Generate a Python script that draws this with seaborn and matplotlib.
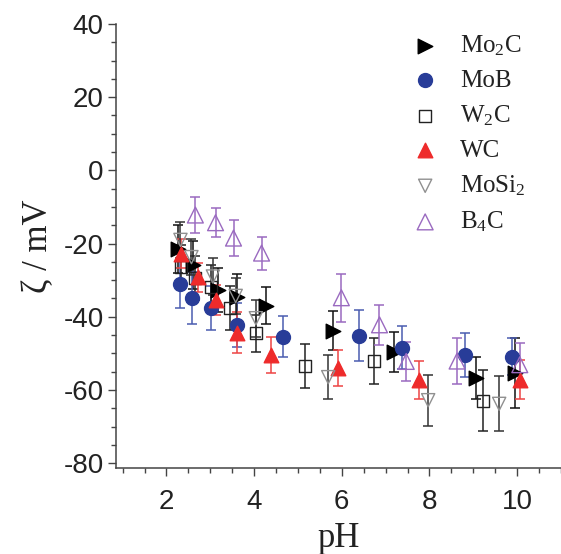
import matplotlib
matplotlib.use("Agg")
import matplotlib.pyplot as plt
import seaborn as sns
import numpy as np
from matplotlib.ticker import MultipleLocator

# ---- data ----
mo2c_ph = [2.26, 2.61, 3.18, 3.61, 4.28, 5.80, 7.18, 9.07, 9.94]
mo2c_z = [-21.5, -25.8, -32.8, -34.7, -37.0, -43.8, -49.7, -56.8, -55.4]
mo2c_err = [6.5, 6.5, 6.0, 6.4, 5.0, 5.3, 5.5, 5.8, 9.5]

mob_ph = [2.30, 2.59, 3.01, 3.61, 4.65, 6.39, 7.38, 8.80, 9.88]
mob_z = [-31.0, -34.9, -37.7, -42.2, -45.4, -45.2, -48.4, -50.4, -50.9]
mob_err = [6.5, 7.0, 6.0, 6.0, 5.6, 7.0, 6.0, 6.0, 5.0]

w2c_ph = [2.33, 2.65, 3.01, 3.44, 4.05, 5.17, 6.73, 9.21]
w2c_z = [-26.5, -29.3, -31.8, -37.5, -44.5, -53.4, -52.1, -62.9]
w2c_err = [6.0, 6.0, 6.0, 6.0, 5.0, 6.0, 6.2, 8.3]

wc_ph = [2.34, 2.72, 3.12, 3.61, 4.39, 5.91, 7.76, 10.06]
wc_z = [-22.8, -29.2, -35.4, -44.3, -50.4, -54.0, -57.4, -57.2]
wc_err = [4.0, 4.0, 4.0, 5.5, 5.0, 5.0, 5.2, 5.4]

mosi2_ph = [2.32, 2.57, 3.06, 3.58, 4.04, 5.69, 7.97, 9.59]
mosi2_z = [-19.0, -23.7, -29.0, -34.3, -40.4, -56.5, -62.8, -63.8]
mosi2_err = [5.0, 5.0, 5.0, 5.0, 5.0, 6.0, 7.0, 7.5]

b4c_ph = [2.66, 3.12, 3.53, 4.17, 5.99, 6.86, 7.47, 8.63, 10.06]
b4c_z = [-12.2, -14.3, -18.5, -22.6, -34.8, -42.2, -52.2, -52.1, -53.1]
b4c_err = [5.0, 4.0, 5.0, 4.5, 6.5, 5.5, 5.3, 6.3, 6.0]

labels = ["Mo$_2$C", "MoB", "W$_2$C", "WC", "MoSi$_2$", "B$_4$C"]

sns.set_style("ticks")
plt.rcParams["mathtext.fontset"] = "custom"
plt.rcParams["mathtext.rm"] = "Liberation Serif"
plt.rcParams["mathtext.it"] = "Liberation Serif:italic"
plt.rcParams["font.family"] = ["Liberation Sans", "DejaVu Sans"]
plt.rcParams["axes.unicode_minus"] = False

fig = plt.figure(figsize=(5.61, 5.54), dpi=100)
ax = fig.add_axes([0.2068, 0.1547, 0.7932, 0.802])

series = [
    (mo2c_ph, mo2c_z, mo2c_err, ">", "#000000", "#000000", "#111111", 110),
    (mob_ph, mob_z, mob_err, "o", "#283c98", "#283c98", "#4a5cb0", 100),
    (w2c_ph, w2c_z, w2c_err, "s", "none", "#222222", "#222222", 75),
    (wc_ph, wc_z, wc_err, "^", "#ee2b2b", "#ee2b2b", "#ee4444", 110),
    (mosi2_ph, mosi2_z, mosi2_err, "v", "none", "#909090", "#333333", 90),
    (b4c_ph, b4c_z, b4c_err, "^", "none", "#9a6ac0", "#9a6ac0", 130),
]

for (x, y, e, m, fc, ec, bc, s), lab in zip(series, labels):
    ax.errorbar(x, y, yerr=e, fmt="none", ecolor=bc, elinewidth=1.1,
                capsize=3.5, capthick=1.1, zorder=2)
    sns.scatterplot(x=x, y=y, ax=ax, marker=m, s=s, facecolor=fc,
                    edgecolor=ec, linewidth=1.0, label=lab, zorder=3)

ax.set_xlim(0.85, 11.0)
ax.set_ylim(-81.4, 40)
ax.set_xticks([2, 4, 6, 8, 10])
ax.set_yticks([40, 20, 0, -20, -40, -60, -80])
ax.xaxis.set_minor_locator(MultipleLocator(0.5))
ax.yaxis.set_minor_locator(MultipleLocator(5))
ax.tick_params(axis="both", which="major", direction="out", length=6,
               width=1.0, color="#444444", labelsize=20,
               labelcolor="#222222")
ax.tick_params(axis="x", which="major", pad=9)
ax.tick_params(axis="y", which="major", pad=3)
ax.tick_params(axis="both", which="minor", direction="out", length=3.5,
               width=1.0, color="#444444")
for side in ["top", "right"]:
    ax.spines[side].set_visible(False)
for side in ["left", "bottom"]:
    ax.spines[side].set_color("#444444")
    ax.spines[side].set_linewidth(1.1)

ax.set_xlabel("pH", family=["Liberation Serif"], fontsize=25, labelpad=5,
              color="#222222")
ax.set_ylabel("ζ / mV", family=["Liberation Serif", "DejaVu Serif"],
              fontsize=25, labelpad=6, color="#222222")

leg = ax.legend(loc="upper left", bbox_to_anchor=(0.588, 1.03), frameon=False,
                prop={"family": "Liberation Serif", "size": 18},
                handletextpad=0.4, labelspacing=0.46, borderpad=0.4,
                markerscale=1.0)
for t in leg.get_texts():
    t.set_color("#222222")

fig.savefig("out.png", dpi=100)
